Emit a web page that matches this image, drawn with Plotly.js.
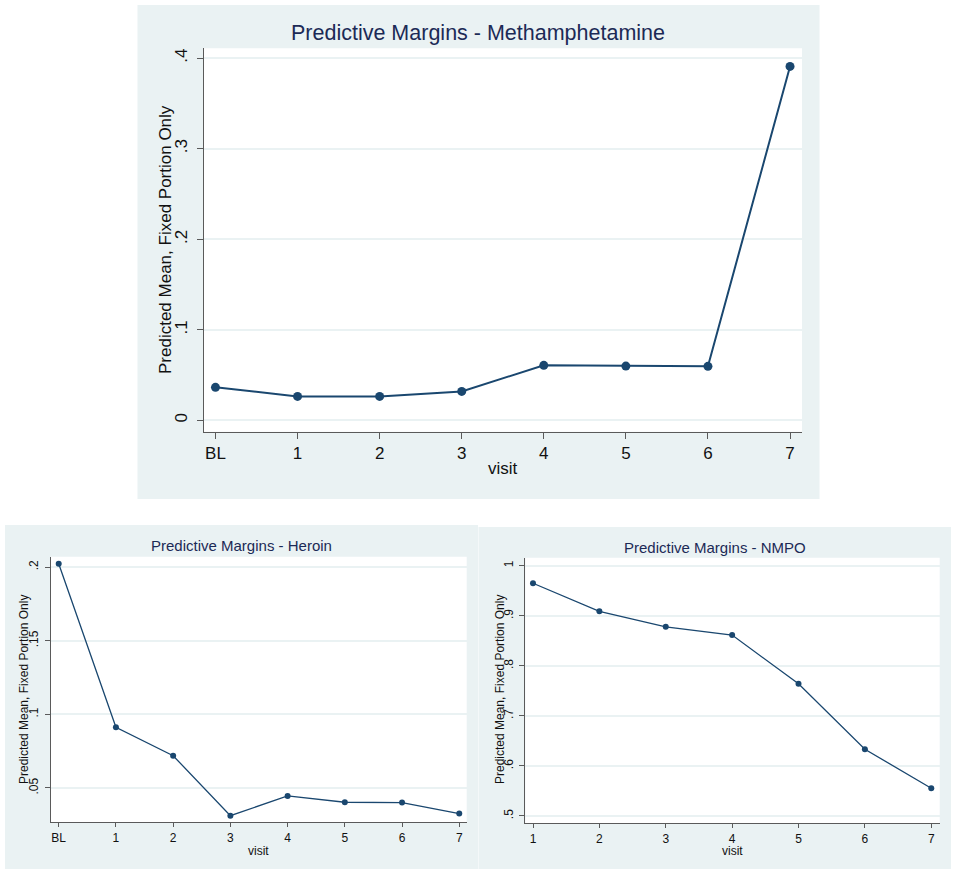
<!DOCTYPE html>
<html>
<head>
<meta charset="utf-8">
<script src="https://cdn.plot.ly/plotly-3.0.1.min.js"></script>
<style>html,body{margin:0;padding:0;background:#fff;}#chart{width:957px;height:876px;}</style>
</head>
<body>
<div id="chart"></div>
<script>
// ---- Data ----
const methVisits = ['BL','1','2','3','4','5','6','7'];
const methValues = [0.0365, 0.0265, 0.0265, 0.032, 0.0608, 0.060, 0.0597, 0.391];

const heroinVisits = ['BL','1','2','3','4','5','6','7'];
const heroinValues = [0.2022, 0.0912, 0.0719, 0.0312, 0.0446, 0.0403, 0.0401, 0.0326];

const nmpoVisits = [1, 2, 3, 4, 5, 6, 7];
const nmpoValues = [0.965, 0.9088, 0.878, 0.8615, 0.764, 0.6333, 0.5555];

const methTickVals = [0, 0.1, 0.2, 0.3, 0.4];
const methTickText = ['0', '.1', '.2', '.3', '.4'];
const heroinTickVals = [0.05, 0.1, 0.15, 0.2];
const heroinTickText = ['.05', '.1', '.15', '.2'];
const nmpoTickVals = [0.5, 0.6, 0.7, 0.8, 0.9, 1];
const nmpoTickText = ['.5', '.6', '.7', '.8', '.9', '1'];

const titles = ['Predictive Margins - Methamphetamine', 'Predictive Margins - Heroin', 'Predictive Margins - NMPO'];
const yTitle = 'Predicted Mean, Fixed Portion Only';
const xTitle = 'visit';

// ---- Layout helpers ----
const W = 957, H = 876;
const px = v => v / W;
const py = v => 1 - v / H;

const NAVY = '#1A476F';
const BG = '#EAF2F3';
const AXIS = '#5a5a5a';
const TITLE = '#1C2A56';
const FONT = 'Liberation Sans, Arial, Helvetica, sans-serif';

function yAxis(domain, range, tv, tt, size, anchor) {
  return {
    domain: domain, range: range, tickvals: tv, ticktext: tt, anchor: anchor,
    tickangle: -90, showgrid: true, gridcolor: BG, gridwidth: 2,
    zeroline: false, showline: true, linecolor: AXIS, linewidth: 1,
    ticks: 'outside', ticklen: size > 14 ? 6 : 5, tickcolor: AXIS, tickwidth: 1,
    tickfont: {family: FONT, size: size, color: '#111'},
    ticklabelstandoff: size > 14 ? 3 : 2,
    fixedrange: true
  };
}
function xAxis(domain, range, type, tv, size, anchor) {
  const a = {
    domain: domain, range: range, type: type, anchor: anchor,
    showgrid: false, zeroline: false, showline: true, linecolor: AXIS, linewidth: 1,
    ticks: 'outside', ticklen: size > 14 ? 6 : 4, tickcolor: AXIS, tickwidth: 1,
    tickfont: {family: FONT, size: size, color: '#111'},
    fixedrange: true
  };
  if (tv) a.tickvals = tv;
  return a;
}

const traces = [
  {x: methVisits, y: methValues, xaxis: 'x', yaxis: 'y', mode: 'lines+markers',
   line: {color: NAVY, width: 2}, marker: {color: NAVY, size: 9}, hoverinfo: 'skip'},
  {x: heroinVisits, y: heroinValues, xaxis: 'x2', yaxis: 'y2', mode: 'lines+markers',
   line: {color: NAVY, width: 1.3}, marker: {color: NAVY, size: 6}, hoverinfo: 'skip'},
  {x: nmpoVisits, y: nmpoValues, xaxis: 'x3', yaxis: 'y3', mode: 'lines+markers',
   line: {color: NAVY, width: 1.3}, marker: {color: NAVY, size: 6}, hoverinfo: 'skip'}
];

function ann(text, x, y, size, color, angle) {
  return {text: text, x: px(x), y: py(y), xref: 'paper', yref: 'paper',
          xanchor: 'center', yanchor: 'middle', showarrow: false,
          textangle: angle || 0, font: {family: FONT, size: size, color: color}};
}

const layout = {
  width: W, height: H,
  margin: {l: 0, r: 0, t: 0, b: 0, pad: 0},
  paper_bgcolor: '#ffffff',
  plot_bgcolor: 'rgba(0,0,0,0)',
  showlegend: false,
  xaxis: xAxis([px(203.5), px(802)], [-0.146, 7.146], 'category', null, 17, 'y'),
  yaxis: yAxis([py(431.7), py(48.3)], [-0.0125, 0.411], methTickVals, methTickText, 17, 'x'),
  xaxis2: xAxis([px(50.7), px(466.7)], [-0.14, 7.13], 'category', null, 12, 'y2'),
  yaxis2: yAxis([py(822.3), py(556.7)], [0.0267, 0.207], heroinTickVals, heroinTickText, 12, 'x2'),
  xaxis3: xAxis([px(525.3), px(939.7)], [0.884, 7.127], 'linear', nmpoVisits, 12, 'y3'),
  yaxis3: yAxis([py(823.3), py(557.7)], [0.4854, 1.016], nmpoTickVals, nmpoTickText, 12, 'x3'),
  shapes: [
    {type: 'rect', xref: 'paper', yref: 'paper', x0: px(137.5), x1: px(819.5), y0: py(499), y1: py(5),
     fillcolor: BG, line: {width: 0}, layer: 'below'},
    {type: 'rect', xref: 'paper', yref: 'paper', x0: px(5), x1: px(478), y0: py(869), y1: py(525),
     fillcolor: BG, line: {width: 0}, layer: 'below'},
    {type: 'rect', xref: 'paper', yref: 'paper', x0: px(478.5), x1: px(951), y0: py(869), y1: py(527),
     fillcolor: BG, line: {width: 0}, layer: 'below'},
    {type: 'rect', xref: 'x domain', yref: 'y domain', x0: 0, x1: 1, y0: 0, y1: 1,
     fillcolor: '#ffffff', line: {width: 0}, layer: 'below'},
    {type: 'rect', xref: 'x2 domain', yref: 'y2 domain', x0: 0, x1: 1, y0: 0, y1: 1,
     fillcolor: '#ffffff', line: {width: 0}, layer: 'below'},
    {type: 'rect', xref: 'x3 domain', yref: 'y3 domain', x0: 0, x1: 1, y0: 0, y1: 1,
     fillcolor: '#ffffff', line: {width: 0}, layer: 'below'}
  ],
  annotations: [
    ann(titles[0], 478, 33, 21.5, TITLE),
    ann(yTitle, 165, 240, 17, '#111', -90),
    ann(xTitle, 503, 468, 17, '#111'),
    ann(titles[1], 241.5, 545, 15, TITLE),
    ann(yTitle, 24, 690, 12, '#111', -90),
    ann(xTitle, 258.5, 851, 12, '#111'),
    ann(titles[2], 715, 547, 15, TITLE),
    ann(yTitle, 500, 690, 12, '#111', -90),
    ann(xTitle, 732.5, 851, 12, '#111')
  ]
};

Plotly.newPlot('chart', traces, layout, {displayModeBar: false, staticPlot: true});
</script>
</body>
</html>
